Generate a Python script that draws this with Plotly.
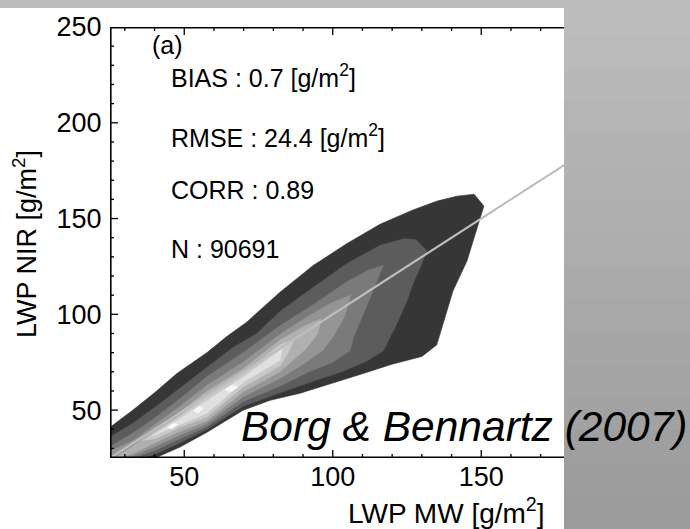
import plotly.graph_objects as go

# ---------------- data (data units g/m^2) ----------------
line_x = [25, 250]
line_y = [25, 250]

# contour levels of the joint histogram (outer = darkest), as closed boundaries
lvl1_x = [25, 25, 32.7, 40.2, 47.6, 57.7, 64.4, 71.1, 82.2, 93.4, 104.8, 115.9, 127.0, 135.1, 141.8, 147.6,
          150.9, 149.6, 145.2, 140.5, 137.0, 135.0, 130.0, 120.0, 110.0, 100.0, 89.0, 78.9, 69.8, 57.7, 48.6, 40.2]
lvl1_y = [25, 41.0, 50.0, 59.3, 69.2, 80.1, 88.5, 96.0, 111.5, 125.5, 137.0, 147.0, 154.5, 159.1, 161.7, 162.7,
          156.5, 149.7, 127.9, 112.3, 95.0, 84.0, 78.0, 74.0, 69.0, 64.0, 58.8, 55.1, 49.9, 38.5, 30.7, 25]

lvl2_x = [25, 25, 32.7, 40.2, 48.6, 57.7, 66.4, 74.5, 82.2, 93.4, 104.8, 115.9, 124.0, 128.0, 131.7,
          129.4, 127.0, 125.0, 121.6, 117.0, 112.0, 103.0, 95.0, 82.2, 69.8, 57.7, 48.6, 40.2, 36.0]
lvl2_y = [25, 36.0, 43.2, 51.5, 61.5, 72.5, 82.7, 90.0, 101.5, 114.0, 126.5, 136.0, 139.5, 139.0, 133.1,
          124.3, 116.0, 107.1, 95.2, 81.0, 76.0, 70.0, 66.0, 59.0, 52.0, 40.0, 33.0, 27.0, 25]

lvl3_x = [25, 25, 32.7, 40.2, 48.6, 57.7, 69.8, 82.2, 93.4, 104.8, 112.0, 117.0,
          114.0, 110.0, 107.0, 105.8, 100.0, 92.0, 82.2, 69.8, 57.7, 48.6, 40.2, 33.0]
lvl3_y = [25, 31.0, 38.0, 46.0, 56.0, 67.5, 80.0, 94.0, 105.0, 117.0, 123.0, 125.5,
          114.0, 99.0, 88.0, 81.0, 75.0, 70.0, 62.5, 54.5, 41.5, 35.0, 29.0, 25]

lvl4_x = [25, 25, 32.7, 40.2, 48.6, 57.7, 69.8, 82.2, 90.6, 99.0, 106.0,
          104.0, 100.0, 96.5, 90.0, 82.2, 69.8, 57.7, 48.6, 40.2, 31.0]
lvl4_y = [25, 28.5, 34.0, 42.5, 52.0, 63.0, 75.0, 89.5, 98.0, 105.5, 110.0,
          99.0, 88.0, 81.0, 74.0, 66.5, 57.0, 43.0, 37.0, 31.0, 25]

lvl5_x = [26.5, 32.7, 40.2, 48.6, 57.7, 69.8, 82.2, 90.0, 96.0, 95.0, 91.0, 86.0, 82.2, 69.8, 57.7, 48.6, 40.2, 32.0, 28.0]
lvl5_y = [25, 31.0, 40.0, 49.0, 60.0, 71.5, 86.5, 93.5, 97.5, 90.0, 82.0, 75.0, 70.0, 59.5, 44.5, 39.0, 33.0, 27.0, 25]

lvl6_x = [36.0, 40.2, 48.6, 57.7, 69.8, 82.2, 87.0, 85.0, 82.2, 69.8, 57.7, 48.6, 40.2]
lvl6_y = [34.0, 38.5, 47.0, 57.5, 69.0, 84.0, 87.0, 80.0, 73.0, 62.0, 46.5, 41.0, 35.0]

lvl7_x = [39.0, 48.6, 57.7, 69.8, 82.2, 83.0, 82.2, 69.8, 57.7, 48.6, 40.2]
lvl7_y = [36.5, 45.5, 55.0, 67.0, 81.0, 82.0, 76.0, 64.5, 48.5, 42.5, 37.0]

white1_x = [63.5, 66.0, 68.0, 65.5]
white1_y = [60.5, 63.0, 62.0, 59.5]
white2_x = [53.0, 55.0, 56.5, 54.5]
white2_y = [49.5, 52.0, 51.0, 48.5]
white3_x = [44.2, 46.2, 47.8, 45.8]
white3_y = [40.8, 43.2, 42.5, 40.2]

stats_lines = ["(a)", "BIAS : 0.7 [g/m<sup>2</sup>]", "RMSE : 24.4 [g/m<sup>2</sup>]",
               "CORR : 0.89", "N : 90691"]
stats_x = [38.6, 44.9, 44.9, 44.9, 44.9]
stats_y = [240.5, 224.5, 193.3, 164.8, 134.2]

# ---------------- layout geometry (pixels) ----------------
W, H = 690, 529
PL, PR, PT, PB = 110, 564, 25, 458
XMIN, YMIN, YMAX = 25, 25, 250
XPX = 2.97                      # pixels per g/m^2 on x
XMAX = XMIN + (PR - PL) / XPX
YPX = (PB - PT) / (YMAX - YMIN)
MAJOR, MINOR = 50, 10
TL_MAJ, TL_MIN = 8, 4           # tick lengths (px)

def fx(px):
    return (px - PL) / (PR - PL)

def fy(py):
    return (PB - py) / (PB - PT)

FONT = "Liberation Sans, Arial, Helvetica, sans-serif"

fig = go.Figure()

levels = [
    (lvl1_x, lvl1_y, "#363636"),
    (lvl2_x, lvl2_y, "#5c5c5c"),
    (lvl3_x, lvl3_y, "#7a7a7a"),
    (lvl4_x, lvl4_y, "#959595"),
    (lvl5_x, lvl5_y, "#b0b0b0"),
    (lvl6_x, lvl6_y, "#c9c9c9"),
    (lvl7_x, lvl7_y, "#e0e0e0"),
    (white1_x, white1_y, "#f7f7f7"),
    (white2_x, white2_y, "#f7f7f7"),
    (white3_x, white3_y, "#f7f7f7"),
]
for xs, ys, col in levels:
    fig.add_trace(go.Scatter(x=xs, y=ys, mode="lines", fill="toself", fillcolor=col,
                             line=dict(width=0.6, color=col), hoverinfo="skip", showlegend=False))

fig.add_trace(go.Scatter(x=line_x, y=line_y, mode="lines", line=dict(color="#bdbdbd", width=2.2),
                         hoverinfo="skip", showlegend=False))

# ---- axis frame (left, bottom, top) and inward ticks, built from the axis ranges ----
fr_x = [XMIN, XMIN, None, XMIN, XMAX, None, XMIN, XMAX]
fr_y = [YMIN, YMAX, None, YMIN, YMIN, None, YMAX, YMAX]
fig.add_trace(go.Scatter(x=fr_x, y=fr_y, mode="lines", line=dict(color="black", width=3.2),
                         hoverinfo="skip", showlegend=False, connectgaps=False))

tk_x, tk_y = [], []
v = MINOR * ((XMIN + MINOR - 1) // MINOR)
while v < XMAX:
    ln = (TL_MAJ if v % MAJOR == 0 else TL_MIN) / YPX
    tk_x += [v, v, None, v, v, None]
    tk_y += [YMIN, YMIN + ln, None, YMAX - ln, YMAX, None]
    v += MINOR
v = MINOR * ((YMIN + MINOR - 1) // MINOR)
while v <= YMAX:
    ln = (TL_MAJ if v % MAJOR == 0 else TL_MIN) / XPX
    tk_x += [XMIN, XMIN + ln, None]
    tk_y += [v, v, None]
    v += MINOR
fig.add_trace(go.Scatter(x=tk_x, y=tk_y, mode="lines", line=dict(color="black", width=1.3),
                         hoverinfo="skip", showlegend=False, connectgaps=False))

tickfont = dict(family=FONT, size=27, color="black")
fig.update_xaxes(range=[XMIN, XMAX], showgrid=False, zeroline=False, showline=False, ticks="",
                 tickmode="linear", tick0=0, dtick=MAJOR, tickfont=tickfont)
fig.update_yaxes(range=[YMIN, YMAX], showgrid=False, zeroline=False, showline=False, ticks="",
                 tickmode="linear", tick0=0, dtick=MAJOR, tickfont=tickfont, ticksuffix="\u00a0")

# gray slide background on the right and top
shapes = []
nb = 16
for i in range(nb):
    y0 = i * H / nb
    y1 = (i + 1) * H / nb + 1
    g = int(round(0xbc - (0xbc - 0x9b) * i / (nb - 1)))
    col = "#%02x%02x%02x" % (g, g, g)
    shapes.append(dict(type="rect", xref="paper", yref="paper", layer="above",
                       x0=fx(PR), x1=fx(W + 2), y0=fy(y1), y1=fy(y0),
                       fillcolor=col, line=dict(width=0)))
shapes.append(dict(type="rect", xref="paper", yref="paper", layer="above",
                   x0=fx(-2), x1=fx(W + 2), y0=fy(6), y1=fy(-2),
                   fillcolor="#bcbcbc", line=dict(width=0)))

annotations = []
for txt, ax, ay in zip(stats_lines, stats_x, stats_y):
    annotations.append(dict(x=ax, y=ay, xref="x", yref="y", text=txt, showarrow=False,
                            xanchor="left", yanchor="middle",
                            font=dict(family=FONT, size=25, color="black")))

annotations.append(dict(x=fx(446), y=fy(511), xref="paper", yref="paper",
                        text="LWP MW [g/m<sup>2</sup>]", showarrow=False,
                        xanchor="center", yanchor="middle",
                        font=dict(family=FONT, size=28, color="black")))
annotations.append(dict(x=fx(25), y=fy(243), xref="paper", yref="paper",
                        text="LWP NIR [g/m<sup>2</sup>]", showarrow=False, textangle=-90,
                        xanchor="center", yanchor="middle",
                        font=dict(family=FONT, size=27, color="black")))
annotations.append(dict(x=fx(239), y=fy(426), xref="paper", yref="paper",
                        text="<i>Borg &amp; Bennartz (2007)</i>", showarrow=False,
                        xanchor="left", yanchor="middle",
                        font=dict(family=FONT, size=42.5, color="black")))

fig.update_layout(width=W, height=H, margin=dict(l=PL, r=W - PR, t=PT, b=H - PB),
                  paper_bgcolor="white", plot_bgcolor="white",
                  shapes=shapes, annotations=annotations, showlegend=False)

fig.write_html("out.html", config={"displayModeBar": False})
